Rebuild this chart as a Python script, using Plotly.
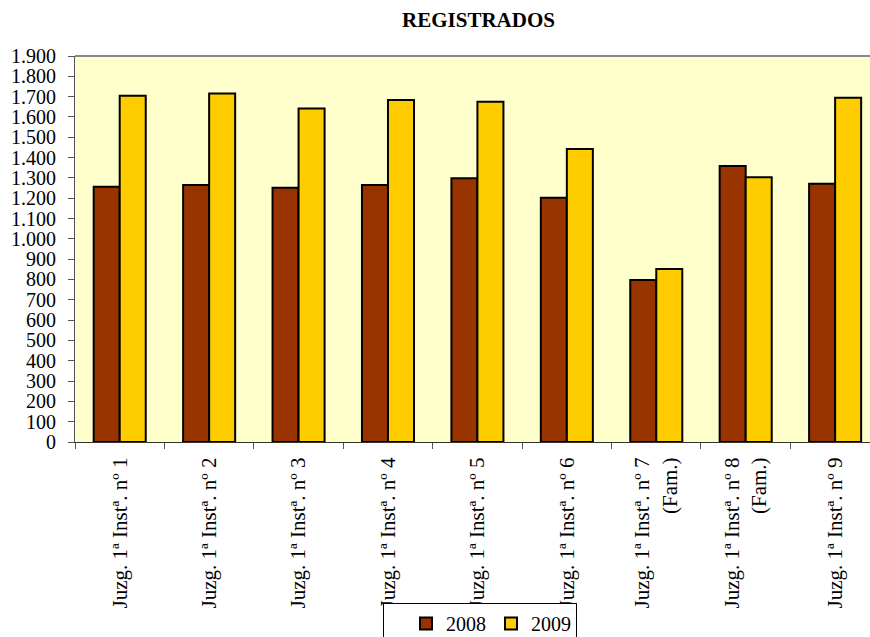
import plotly.graph_objects as go

categories = [
    "Juzg. 1ª Instª. nº 1",
    "Juzg. 1ª Instª. nº 2",
    "Juzg. 1ª Instª. nº 3",
    "Juzg. 1ª Instª. nº 4",
    "Juzg. 1ª Instª. nº 5",
    "Juzg. 1ª Instª. nº 6",
    "Juzg. 1ª Instª. nº 7<br>(Fam.)",
    "Juzg. 1ª Instª. nº 8<br>(Fam.)",
    "Juzg. 1ª Instª. nº 9",
]
values_2008 = [1256, 1265, 1251, 1265, 1298, 1202, 797, 1358, 1271]
values_2009 = [1704, 1716, 1642, 1683, 1675, 1442, 851, 1303, 1694]

y_tickvals = list(range(0, 2000, 100))
y_ticktext = ["0", "100", "200", "300", "400", "500", "600", "700", "800", "900",
              "1.000", "1.100", "1.200", "1.300", "1.400", "1.500", "1.600",
              "1.700", "1.800", "1.900"]

FONT = "Liberation Serif"

fig = go.Figure()
fig.add_trace(go.Bar(name="2008", x=categories, y=values_2008,
                     marker=dict(color="#993300", line=dict(color="black", width=2))))
fig.add_trace(go.Bar(name="2009", x=categories, y=values_2009,
                     marker=dict(color="#FFCC00", line=dict(color="black", width=2))))

fig.update_layout(
    width=870, height=637,
    margin=dict(l=75, r=0, t=56, b=195, autoexpand=False),
    paper_bgcolor="white",
    plot_bgcolor="#FFFFCC",
    barmode="group",
    bargap=0.418,
    bargroupgap=0,
    font=dict(family=FONT, size=20, color="black"),
    title=dict(text="<b>REGISTRADOS</b>", x=0.55, xref="container", xanchor="center",
               y=1 - 20 / 637, yref="container", yanchor="middle",
               font=dict(family=FONT, size=21, color="black")),
    showlegend=True,
    legend=dict(orientation="h", x=(383 - 75) / 795, xanchor="left",
                y=-(603 - 442) / 386, yanchor="top",
                bgcolor="white", bordercolor="black", borderwidth=1,
                title=dict(text="&nbsp;&nbsp;", side="left"),
                font=dict(family=FONT, size=20, color="black")),
    xaxis=dict(type="category", range=[-0.5, 8.39], tickangle=-90, automargin=False,
               tickson="boundaries", ticks="outside", ticklen=6, tickcolor="#555555",
               showline=True, linecolor="#333333", linewidth=1,
               showgrid=False, ticklabelstandoff=6,
               tickfont=dict(family=FONT, size=21, color="black")),
    yaxis=dict(range=[0, 1900], tickvals=y_tickvals, ticktext=y_ticktext, automargin=False,
               ticks="outside", ticklen=6, tickcolor="#555555",
               showline=True, linecolor="#555555", linewidth=1,
               showgrid=False, zeroline=False, ticklabelstandoff=8,
               tickfont=dict(family=FONT, size=20, color="black")),
    shapes=[dict(type="line", xref="paper", yref="paper", x0=0, x1=1, y0=1, y1=1,
                 line=dict(color="#888888", width=2))],
)

fig.write_html("out.html", config={"displayModeBar": False},
               post_script="document.body.style.margin='0';document.body.style.overflow='hidden';")
